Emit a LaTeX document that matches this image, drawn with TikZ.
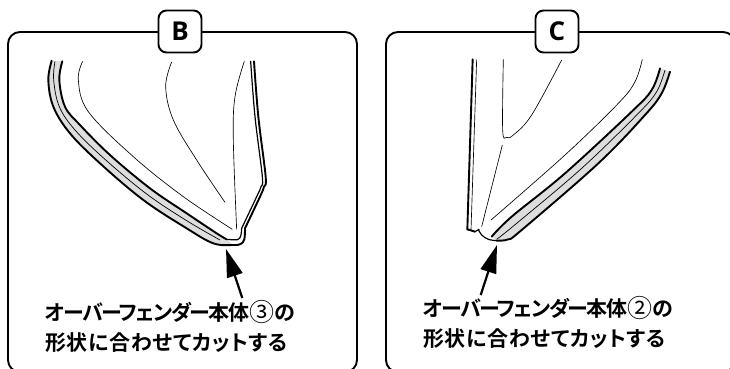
\documentclass[tikz,border=0pt]{standalone}
\usepackage{fontspec}
\newfontfamily\cjk{Noto Sans CJK JP}[BoldFont={* Bold},RawFeature={+palt}]
\newfontfamily\labelfont{Open Sans}
\usetikzlibrary{arrows.meta}
\newcommand{\firstrow}{\addfontfeature{LetterSpace=-7}}
\newcommand{\secondrow}{\addfontfeature{LetterSpace=3}}
\newcommand{\circled}[1]{{\mdseries\fontsize{25}{30}\selectfont\raisebox{-1pt}{#1}}}
\tikzset{
    panel/.style={draw, line width=1.9pt, rounded corners=12pt, inner sep=0pt},
    tag/.style={draw, fill=white, line width=1.9pt, rounded corners=8pt, minimum width=43pt, minimum height=42pt,
        inner sep=0pt, font=\labelfont\bfseries\fontsize{26}{26}\selectfont},
    note/.style={anchor=north west, align=left, inner sep=0pt, font=\cjk\bfseries\fontsize{21}{30}\selectfont},
    pointer/.style={-{Triangle[length=28pt,width=16pt]}, line width=2.2pt},
    thinline/.style={line width=0.65pt},
    edge/.style={line width=1.9pt, line cap=round},
    edgethin/.style={line width=1.2pt, line cap=round},
    midline/.style={line width=0.7pt},
    band/.style={fill=black!13},
}
\begin{document}
\begin{tikzpicture}[x=1pt,y=-1pt]
    \useasboundingbox (0,0) rectangle (730,369);

    % Panel B
    \node[panel, minimum width=349pt, minimum height=340pt] (panelB) at (182.5,202) {};
    \node[tag] (tagB) at (180,31.5) {B};
    \begin{scope}[scale=1/3]
        \fill[band] plot[smooth,tension=0.6] coordinates {(155,182) (145,240) (160,320) (210,400) (300,490) (430,600) (560,685) (640,730) (700,735)}
            -- plot[smooth,tension=0.6] coordinates {(680,718) (650,700) (560,640) (450,565) (330,465) (240,375) (195,320) (178,240) (187,184)} -- cycle;
        \draw[edge] plot[smooth,tension=0.6] coordinates {(155,182) (145,240) (160,320) (210,400) (300,490) (430,600) (560,685) (640,730) (700,735) (722,732) (733,718) (735,685)};
        \draw[edge] plot[smooth,tension=0.6] coordinates {(735,685) (780,590) (792,560) (797,530) (775,350) (762,184)};
        \draw[edge] plot[smooth,tension=0.6] coordinates {(187,184) (178,240) (195,320) (240,375) (330,465) (450,565) (560,640) (650,700) (680,718)};
        \draw[edgethin] plot[smooth,tension=0.6] coordinates {(680,718) (712,719) (722,708) (725,685)};
        \draw[edgethin] plot[smooth,tension=0.6] coordinates {(725,685) (770,590) (783,560) (787,530) (765,350) (752,184)};
        \draw[midline] plot[smooth,tension=0.6] coordinates {(165,184) (161,240) (178,320) (225,390) (315,478) (440,582) (560,662) (660,720)};
        \draw[thinline] plot[smooth,tension=0.6] coordinates {(248,184) (235,240) (265,335) (400,470) (550,590) (697,688)};
        \draw[thinline] plot[smooth,tension=0.6] coordinates {(515,186) (497,260) (520,360) (590,480) (675,607)};
        \draw[thinline] plot[smooth,tension=0.6] coordinates {(733,184) (705,290) (700,420) (710,688)};
    \end{scope}
    \coordinate (tipB) at (226,249);
    \node[note] (noteB) at (45,300) {{\firstrow オーバーフェンダー本体\circled{③}の}\\{\secondrow 形状に合わせてカットする}};
    \coordinate (tailB) at (242.3,298);
    \draw[pointer] (tailB) -- (tipB);

    % Panel C
    \node[panel, minimum width=349pt, minimum height=340pt] (panelC) at (560.5,202) {};
    \node[tag] (tagC) at (557,31.5) {C};
    \begin{scope}[xshift=365pt,scale=1/3]
        \fill[band] plot[smooth,tension=0.6] coordinates {(915,215) (890,280) (840,345) (700,490) (470,690) (430,718) (395,722)}
            -- plot[smooth,tension=0.6] coordinates {(380,710) (440,650) (600,520) (800,335) (860,270) (885,205)} -- cycle;
        \draw[edge] plot[smooth,tension=0.6] coordinates {(915,215) (890,280) (840,345) (700,490) (470,690) (430,718) (395,722)};
        \draw[edgethin] plot[smooth,tension=0.6] coordinates {(395,722) (370,718) (350,705) (340,688)};
        \draw[edge] plot[smooth,tension=0.6] coordinates {(885,205) (860,270) (800,335) (600,520) (440,650) (380,710)};
        \draw[midline] plot[smooth,tension=0.6] coordinates {(900,210) (875,275) (820,340) (650,505) (455,670) (395,718)};
        \draw[edge] (323,178) -- (307,688) -- (330,695);
        \draw[edgethin] (330,695) -- (342,688);
        \draw[thinline] (335,178) -- (318,690);
        \draw[thinline] plot[smooth,tension=0.6] coordinates {(415,178) (413,390) (425,412) (445,405) (500,345) (590,180)};
        \draw[thinline] (412,435) -- (350,680);
        \draw[thinline] plot[smooth,tension=0.6] coordinates {(832,178) (810,245) (760,310) (600,465) (378,660)};
    \end{scope}
    \coordinate (tipC) at (497,245);
    \node[note] (noteC) at (423,296) {{\firstrow オーバーフェンダー本体\circled{②}の}\\{\secondrow 形状に合わせてカットする}};
    \coordinate (tailC) at (480.7,295);
    \draw[pointer] (tailC) -- (tipC);
\end{tikzpicture}
\end{document}
